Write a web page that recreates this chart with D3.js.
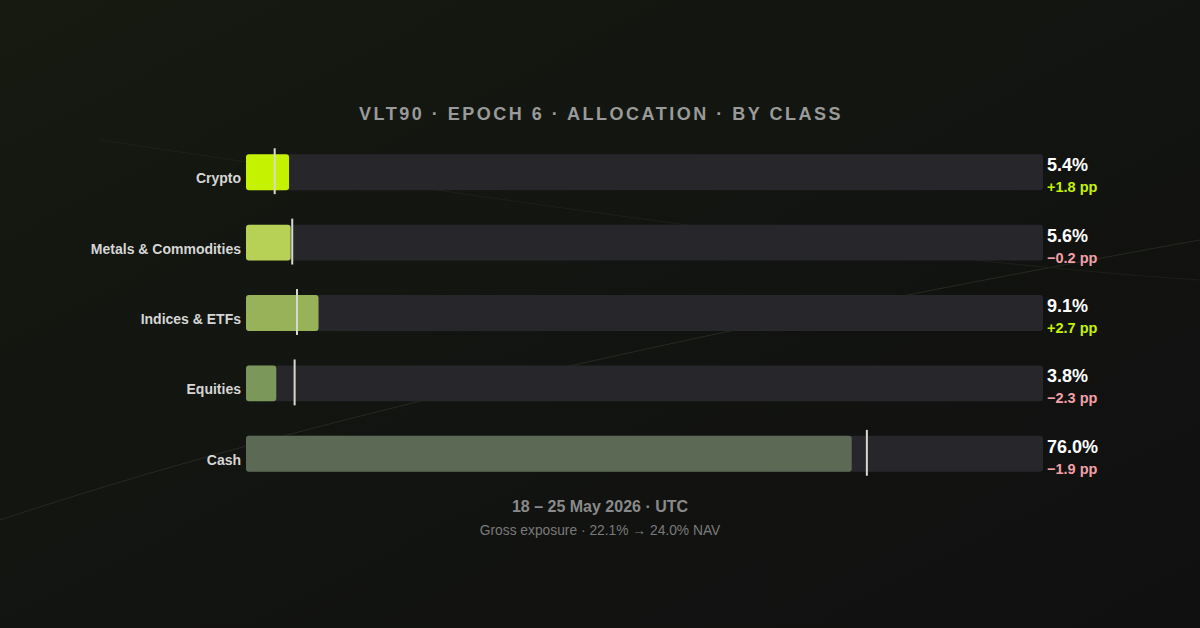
<!DOCTYPE html>
<html><head><meta charset="utf-8">
<script src="https://cdn.jsdelivr.net/npm/d3@7"></script>
<style>
body{margin:0;background:#111}
svg{display:block;font-family:"Liberation Sans",Arial,sans-serif}
</style></head><body>
<div id="chart"></div>
<script>
const categories = ["Crypto", "Metals & Commodities", "Indices & ETFs", "Equities", "Cash"];
const values = [5.4, 5.6, 9.1, 3.8, 76.0];
const deltas = [1.8, -0.2, 2.7, -2.3, -1.9];
const colors = ["#c4f200", "#b7d157", "#98b25a", "#7b975a", "#5c6a55"];

const W = 1200, H = 628;
const svg = d3.select("#chart").append("svg").attr("width", W).attr("height", H);

// background
const defs = svg.append("defs");
const bg = defs.append("linearGradient").attr("id", "bg").attr("x1", 0).attr("y1", 0).attr("x2", 1).attr("y2", 1);
bg.append("stop").attr("offset", 0).attr("stop-color", "#161a10");
bg.append("stop").attr("offset", 0.5).attr("stop-color", "#121411");
bg.append("stop").attr("offset", 1).attr("stop-color", "#101010");
svg.append("rect").attr("width", W).attr("height", H).attr("fill", "url(#bg)");
svg.append("path").attr("d", "M0,520 C300,420 700,330 1200,240").attr("stroke", "#25291f").attr("fill", "none");
svg.append("path").attr("d", "M100,140 C500,200 900,260 1200,280").attr("stroke", "#1c2018").attr("fill", "none");

svg.append("text").attr("x", 601).attr("y", 120).attr("text-anchor", "middle")
    .attr("fill", "#9a9a9a").attr("font-size", 18).attr("font-weight", 700).attr("letter-spacing", 2.5)
    .text("VLT90 · EPOCH 6 · ALLOCATION · BY CLASS");

const x = d3.scaleLinear().domain([0, 100]).range([246, 1043]);
const y = d3.scaleBand().domain(categories).range([137, 489]).paddingInner(0.49).paddingOuter(0.245);

const row = svg.selectAll(".row").data(categories).enter().append("g").attr("class", "row");

row.append("rect").attr("x", x(0)).attr("y", d => y(d)).attr("width", x(100) - x(0))
    .attr("height", y.bandwidth()).attr("rx", 3).attr("fill", "#27272b");
row.append("rect").attr("x", x(0)).attr("y", d => y(d))
    .attr("width", (d, i) => x(values[i]) - x(0))
    .attr("height", y.bandwidth()).attr("rx", 3).attr("fill", (d, i) => colors[i]);
row.append("line")
    .attr("x1", (d, i) => x(values[i] - deltas[i])).attr("x2", (d, i) => x(values[i] - deltas[i]))
    .attr("y1", d => y(d) - 6).attr("y2", d => y(d) + y.bandwidth() + 4)
    .attr("stroke", "#d8d8d0").attr("stroke-width", 2);
row.append("text").attr("x", 241).attr("y", d => y(d) + y.bandwidth() / 2 + 11)
    .attr("text-anchor", "end").attr("fill", "#d6d6d6").attr("font-size", 14).attr("font-weight", 700)
    .text(d => d);
row.append("text").attr("x", 1047).attr("y", d => y(d) + 17)
    .attr("fill", "#fff").attr("font-size", 18).attr("font-weight", 700)
    .text((d, i) => values[i].toFixed(1) + "%");
row.append("text").attr("x", 1047).attr("y", d => y(d) + 38)
    .attr("fill", (d, i) => deltas[i] >= 0 ? "#c4f200" : "#f2a0a8").attr("font-size", 14.5).attr("font-weight", 700)
    .text((d, i) => (deltas[i] >= 0 ? "+" : "\u2212") + Math.abs(deltas[i]).toFixed(1) + " pp");

svg.append("text").attr("x", 600).attr("y", 512).attr("text-anchor", "middle")
    .attr("fill", "#8a8a8a").attr("font-size", 16).attr("font-weight", 700)
    .text("18 – 25 May 2026 · UTC");
svg.append("text").attr("x", 600).attr("y", 535).attr("text-anchor", "middle")
    .attr("fill", "#7a7a7a").attr("font-size", 13.8)
    .text("Gross exposure · 22.1% → 24.0% NAV");
</script>
</body></html>
